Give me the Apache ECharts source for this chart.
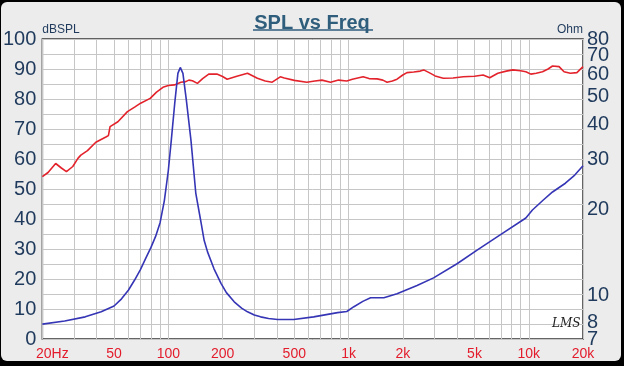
<!DOCTYPE html>
<html><head><meta charset="utf-8">
<script src="https://cdn.jsdelivr.net/npm/echarts@6/dist/echarts.min.js"></script>
<style>
html,body{margin:0;padding:0;background:#000;width:624px;height:366px;overflow:hidden}
#bg{position:absolute;left:1px;top:2px;width:620px;height:359px;background:#ececec;border-radius:6px}
#c{position:absolute;left:0;top:0;width:624px;height:366px}
</style></head>
<body><div id="bg"></div><div id="c"></div>
<script>
// SPL response (frequency in Hz, level in dBSPL)
var splFreq = [20,21.5,23.7,25.5,27.2,29.5,31.5,32.7,35.6,39.6,45.3,46.5,47.5,52.5,59.3,65,70.2,79.3,86,93.3,100,108,117.4,125,130,136,145,155,167.6,186,200,212,240,275,312,345,377,418,440,500,587,650,712,794,880,978,1050,1205,1300,1441,1550,1636,1750,1858,2000,2110,2300,2500,2612,2800,3023,3355,3800,4328,5000,5583,6072,6736,7500,8157,9000,9638,10270,11000,11920,12800,13550,14730,15700,17000,18500,20000];
var splDb = [54.1,55.5,58.5,57.0,55.8,57.5,60.2,61.3,62.8,65.6,67.4,67.8,70.8,72.4,75.8,77.3,78.6,80.2,82.3,83.9,84.5,84.7,85.6,85.8,86.3,86.1,85.2,86.8,88.3,88.3,87.5,86.6,87.6,88.6,86.9,86.0,85.6,87.4,87.0,86.2,85.6,86.0,86.3,85.6,86.3,86.0,86.6,87.4,86.8,86.7,86.3,85.6,86.0,86.6,88.0,88.8,89.0,89.3,89.7,88.8,87.7,86.9,87.0,87.4,87.6,88.0,87.1,88.6,89.3,89.7,89.4,89.1,88.3,88.6,89.1,90.0,91.0,90.8,89.1,88.6,88.8,90.8];
// Impedance (frequency in Hz, Ohm)
var zFreq = [20,26.6,34.6,42.4,50,55,60,65,70,75,80,85,90,95,100,104,108.5,113,116.5,120.5,125.9,133.5,142,151,158,165,179,196,210,232,255,275,300,325,360,404,496,640,869,978,1071,1200,1325,1571,1858,2400,2963,4000,5167,6940,9638,10480,12000,13550,15970,18000,20000];
var zOhm = [7.9,8.1,8.38,8.73,9.15,9.7,10.4,11.3,12.3,13.5,14.7,16.1,18.0,21.5,27.5,35.5,47.4,60.5,63.5,60.5,48.7,35.2,22.9,18.4,15.6,14.2,12.4,11.0,10.2,9.47,9.0,8.73,8.5,8.38,8.27,8.2,8.2,8.38,8.67,8.75,9.1,9.5,9.78,9.78,10.1,10.8,11.5,12.9,14.4,16.3,18.7,19.95,21.6,23.1,24.8,26.5,28.6];
// Axis ticks
var xLabelValues = [20,50,100,200,500,1000,2000,5000,10000,20000];
var xGridValues = [20,30,40,50,60,70,80,90,100,200,300,400,500,600,700,800,900,1000,2000,3000,4000,5000,6000,7000,8000,9000,10000,20000];
var ohmLabelsA = [7,10,30,50,70];
var ohmLabelsB = [8,20,40,60,80];

var splData = splFreq.map(function(f,i){return [f, splDb[i]];});
var zData = zFreq.map(function(f,i){return [f, zOhm[i]];});
var navy = '#1f3a5c';
function ohmAxis(labels, name){
  return {type:'log', logBase:10, min:7, max:80, position:'right', offset:0,
     name:name, nameLocation:'end', nameGap:3, nameTextStyle:{align:'right', verticalAlign:'bottom', color:navy, fontSize:12, fontFamily:'Liberation Sans, Arial'},
     axisLine:{show:false}, axisTick:{show:false, customValues:labels},
     splitLine:{show:false},
     axisLabel:{customValues:labels, margin:4, color:navy, fontSize:20, fontFamily:'Liberation Sans, Arial', showMinLabel:true, showMaxLabel:true, formatter:function(v){return String(Math.round(v));}}
  };
}
var chart = echarts.init(document.getElementById('c'), null, {renderer:'canvas'});
chart.setOption({
  animation:false,
  backgroundColor:'transparent',
  title:{text:'SPL vs Freq', left:'center', top:8, textStyle:{fontFamily:'Liberation Sans, Arial', fontSize:20, fontWeight:'bold', color:'#2f5d7c'}},
  grid:{left:41, right:41, top:39, bottom:27, show:true, backgroundColor:'#fff', borderColor:'#333', borderWidth:1.5},
  xAxis:{type:'log', logBase:10, min:20, max:20000,
    axisLine:{show:false},
    axisTick:{show:false, customValues:xGridValues},
    splitLine:{show:true, lineStyle:{color:'#c6c6c6', width:1}},
    axisLabel:{customValues:xLabelValues, margin:8, color:'#e31b2b', fontSize:14, fontFamily:'Liberation Sans, Arial', showMinLabel:true, showMaxLabel:true,
      formatter:function(v){v=Math.round(v); if(v===20) return '{a|20Hz}'; return v>=1000? (v/1000)+'k' : String(v);},
      rich:{a:{padding:[0,0,0,20], color:'#e31b2b', fontSize:14, fontFamily:'Liberation Sans, Arial'}}}
  },
  yAxis:[
    {type:'value', min:0, max:100, interval:5, position:'left',
     name:'dBSPL', nameLocation:'end', nameGap:3, nameTextStyle:{align:'left', verticalAlign:'bottom', color:navy, fontSize:12, fontFamily:'Liberation Sans, Arial'},
     axisLine:{show:false}, axisTick:{show:false},
     splitLine:{show:true, lineStyle:{color:'#c6c6c6', width:1}},
     axisLabel:{margin:6, color:navy, fontSize:20, fontFamily:'Liberation Sans, Arial', showMinLabel:true, showMaxLabel:true, formatter:function(v){return v%10===0? String(v):'';}}
    },
    ohmAxis(ohmLabelsA, 'Ohm'),
    ohmAxis(ohmLabelsB, '')
  ],
  graphic:[
    {type:'line', shape:{x1:253, y1:30, x2:373, y2:30}, style:{stroke:'#2f5d7c', lineWidth:1.5}},
    {type:'text', x:552, y:318, style:{text:'LMS', font:'italic 12px "DejaVu Serif"', fill:'#222'}, z:100}
  ],
  series:[
    {type:'line', name:'SPL', xAxisIndex:0, yAxisIndex:0, data:splData, showSymbol:false, lineStyle:{color:'#e3232c', width:1.6}, itemStyle:{color:'#e3232c'}, z:3},
    {type:'line', name:'Impedance', xAxisIndex:0, yAxisIndex:1, data:zData, showSymbol:false, lineStyle:{color:'#3535b5', width:1.6}, itemStyle:{color:'#3535b5'}, z:4}
  ]
});
</script></body></html>
